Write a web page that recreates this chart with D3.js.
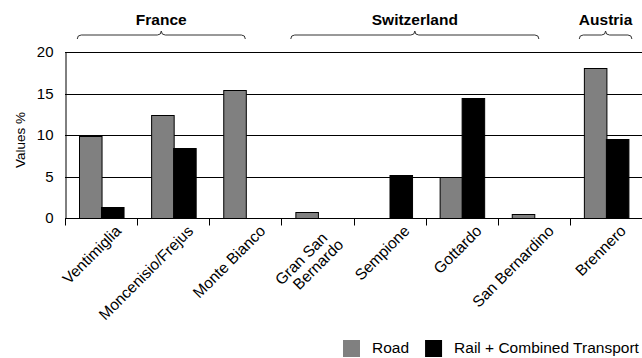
<!DOCTYPE html>
<html>
<head>
<meta charset="utf-8">
<script src="https://cdn.jsdelivr.net/npm/d3@7"></script>
<style>
  html, body { margin: 0; padding: 0; background: #fff; }
  svg { display: block; font-family: Arial, "Liberation Sans", sans-serif; }
</style>
</head>
<body>
<svg id="chart" width="642" height="358"></svg>
<script>
// Alpine freight crossings: share of traffic by mode (%)
const passes = ["Ventimiglia", "Moncenisio/Frejus", "Monte Bianco", "Gran San\nBernardo",
                "Sempione", "Gottardo", "San Bernardino", "Brennero"];
const road = [9.9, 12.4, 15.4, 0.7, 0, 5.0, 0.5, 18.1];
const rail = [1.3, 8.4, 0, 0, 5.2, 14.4, 0, 9.5];
const seriesNames = ["Road", "Rail + Combined Transport"];
const yTicks = [0, 5, 10, 15, 20];
const countries = ["France", "Switzerland", "Austria"];
const countryFirst = [0, 3, 7];   // first pass index of each country
const countryLast = [2, 6, 7];    // last pass index of each country

// layout
const plot = { left: 65, right: 642, top: 52, bottom: 218 };
const colors = { Road: "#808080", "Rail + Combined Transport": "#000000" };
// brace ends, as fractions of a category band
const braceStartFrac = [0.17, 0.13, 0.13];
const braceEndFrac = [0.5, 0.57, 0.86];

const svg = d3.select("#chart");

const x = d3.scaleBand().domain(d3.range(passes.length)).range([plot.left, plot.right]).paddingInner(0).paddingOuter(0);
const xs = d3.scaleBand().domain(seriesNames).range([0, x.bandwidth()]).paddingInner(0).paddingOuter(0.6);
const y = d3.scaleLinear().domain([0, 20]).range([plot.bottom, plot.top]);

// horizontal grid lines
svg.append("g")
  .selectAll("line")
  .data(yTicks.filter(d => d > 0))
  .join("line")
  .attr("x1", plot.left).attr("x2", plot.right)
  .attr("y1", d => Math.round(y(d)) + 0.5).attr("y2", d => Math.round(y(d)) + 0.5)
  .attr("stroke", "#000").attr("stroke-width", 1);

// y axis labels
const yAxis = d3.axisLeft(y).tickValues(yTicks).tickSize(0).tickPadding(12);
const gy = svg.append("g").attr("transform", `translate(${plot.left + 0.5},0)`).call(yAxis);
gy.select(".domain").attr("stroke", "#000");
gy.selectAll("text").attr("font-size", 15).attr("fill", "#000")
  .attr("font-family", null);

// bars
const rows = passes.map((p, i) => ({ i, values: [road[i], rail[i]] }));
const groups = svg.append("g").selectAll("g").data(rows).join("g")
  .attr("transform", d => `translate(${x(d.i)},0)`);
groups.selectAll("rect")
  .data(d => d.values.map((v, k) => ({ name: seriesNames[k], v })).filter(e => e.v > 0))
  .join("rect")
  .attr("x", e => Math.round(xs(e.name)) + 0.5)
  .attr("width", xs.bandwidth())
  .attr("y", e => Math.round(y(e.v)) + 0.5)
  .attr("height", e => Math.round(y(0)) - Math.round(y(e.v)))
  .attr("fill", e => colors[e.name])
  .attr("stroke", "#000").attr("stroke-width", 1);

// x axis with ticks at category boundaries
const gx = svg.append("g").attr("transform", `translate(0,${Math.round(y(0)) + 0.5})`);
gx.append("line").attr("x1", plot.left).attr("x2", plot.right).attr("stroke", "#000");
gx.selectAll("line.tick")
  .data(d3.range(passes.length))
  .join("line").attr("class", "tick")
  .attr("x1", i => Math.round(x(i)) + 0.5).attr("x2", i => Math.round(x(i)) + 0.5)
  .attr("y1", 0).attr("y2", 7).attr("stroke", "#000");

// rotated category labels; continuation lines sit below and slightly further along
const labelG = svg.append("g");
passes.forEach((p, i) => {
  const lines = p.split("\n");
  const cx = x(i) + x.bandwidth() / 2;
  const ax = lines.length > 1 ? cx + 11 : cx + 21;
  const ay = lines.length > 1 ? 239 : 232;
  const t = labelG.append("text")
    .attr("transform", `translate(${ax},${ay}) rotate(-45)`)
    .attr("text-anchor", "end").attr("font-size", 15.5).attr("fill", "#000");
  lines.forEach((l, k) => {
    t.append("tspan").attr("x", k * 6.6).attr("dy", k === 0 ? 0 : 16).text(l);
  });
});

// y axis title
svg.append("text")
  .attr("transform", `translate(25,140) rotate(-90)`)
  .attr("text-anchor", "middle").attr("font-size", 13.5).text("Values %");

// country braces and names
const braceY = 35;
countries.forEach((c, k) => {
  const x0 = x(countryFirst[k]) + braceStartFrac[k] * x.bandwidth();
  const x1 = x(countryLast[k]) + braceEndFrac[k] * x.bandwidth();
  const m = (x0 + x1) / 2;
  const r = 4;
  const path = d3.path();
  path.moveTo(x0, braceY + r);
  path.quadraticCurveTo(x0, braceY, x0 + r, braceY);
  path.lineTo(m - r, braceY);
  path.quadraticCurveTo(m, braceY, m, braceY - r);
  path.quadraticCurveTo(m, braceY, m + r, braceY);
  path.lineTo(x1 - r, braceY);
  path.quadraticCurveTo(x1, braceY, x1, braceY + r);
  svg.append("path").attr("d", path.toString())
    .attr("fill", "none").attr("stroke", "#333").attr("stroke-width", 1);
  svg.append("text").attr("x", m).attr("y", 25)
    .attr("text-anchor", "middle").attr("font-size", 15.5).attr("font-weight", "bold")
    .text(c);
});

// legend
const legend = svg.append("g");
let lx = 343;
seriesNames.forEach(name => {
  legend.append("rect").attr("x", lx).attr("y", 340).attr("width", 17).attr("height", 17)
    .attr("fill", colors[name]);
  const t = legend.append("text").attr("x", lx + 29).attr("y", 353)
    .attr("font-size", 15.5).text(name);
  lx += 29 + t.node().getComputedTextLength() + 16;
});
</script>
</body>
</html>
